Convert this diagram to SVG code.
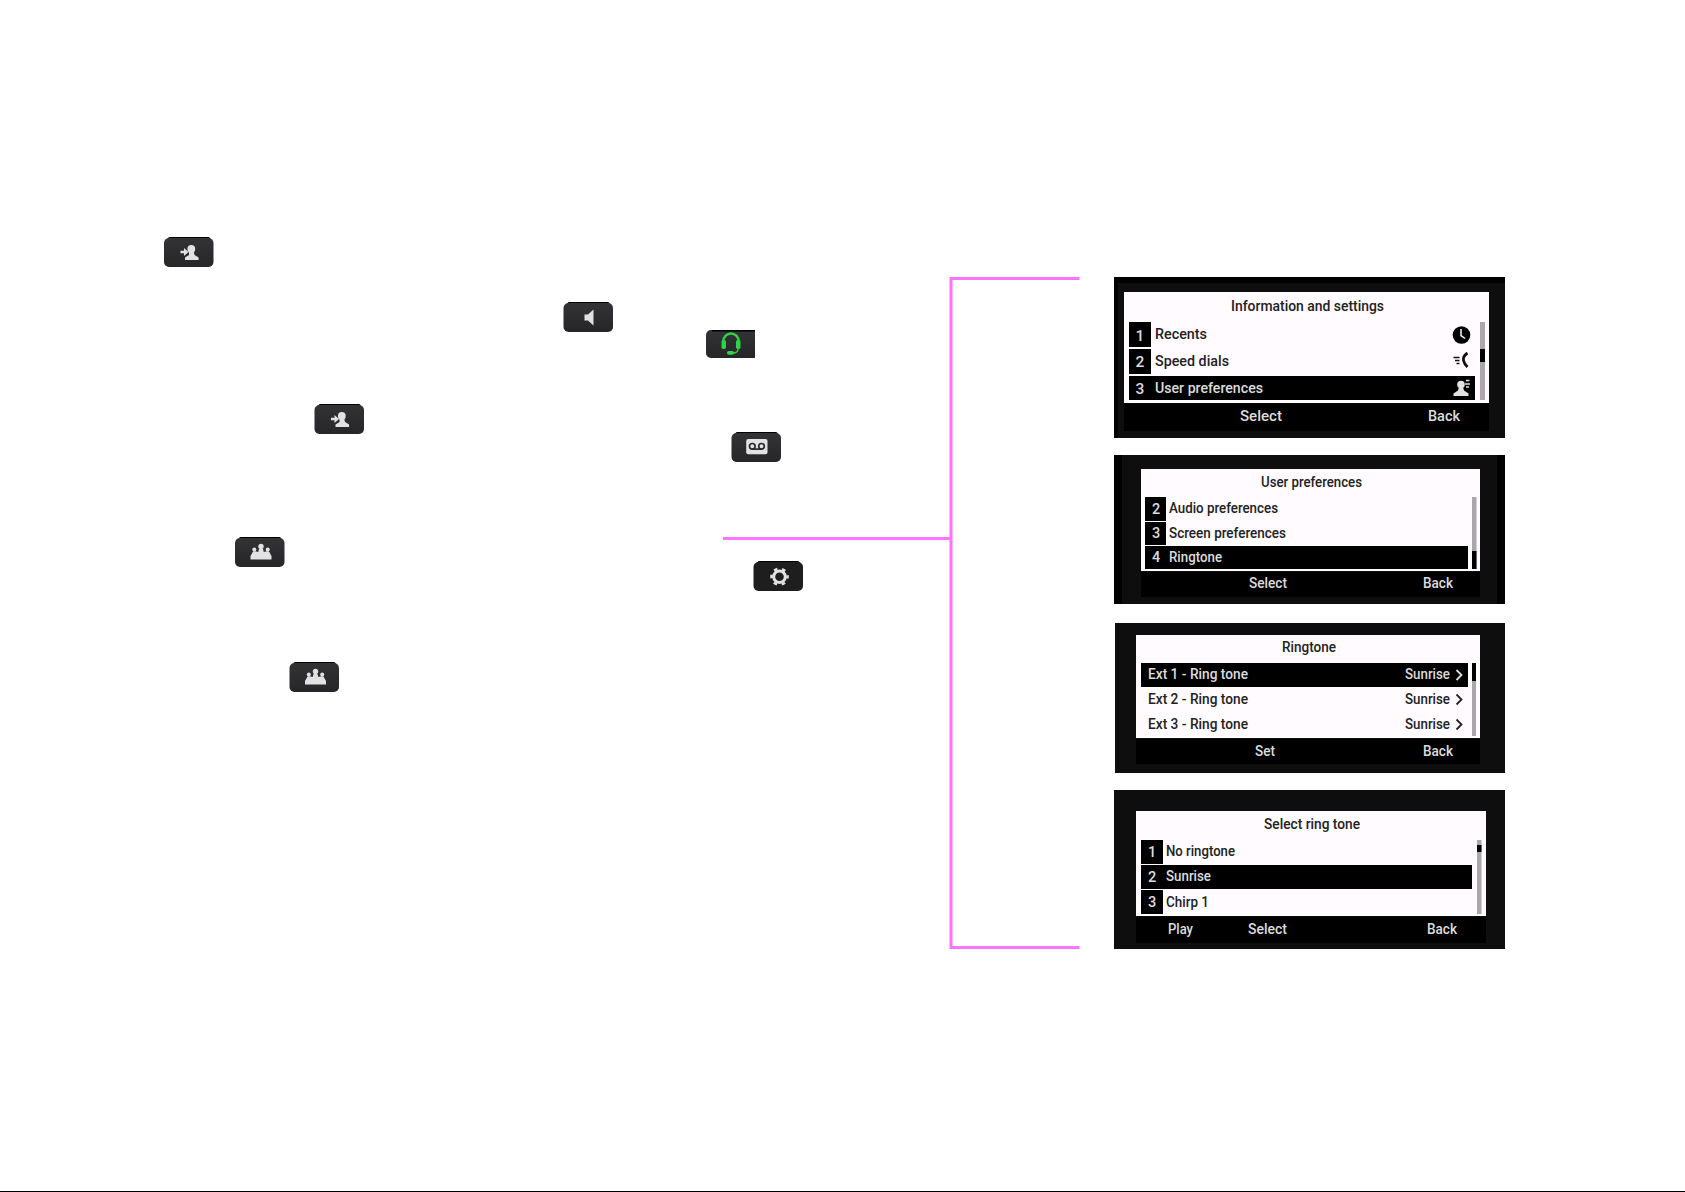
<svg xmlns="http://www.w3.org/2000/svg" width="1685" height="1192" viewBox="0 0 1685 1192">
<style>
text{font-family:Roboto,"Liberation Sans",sans-serif;font-size:14.5px;font-weight:500}
.a text{font-size:15.500px}
.d{fill:url(#keyfill)}
.w{fill:#e2e2e2}
.k{fill:#000}
.f{fill:#0e0e0e}
.s{fill:#fffbff}
.b{fill:#a9a7ab}
.t{fill:#222}
.l{fill:#dcdcdc}
.conn{fill:none;stroke:#ff73ff;stroke-width:3}
.chev{fill:none;stroke:#e0e0e0;stroke-width:1.800}
.chev2{fill:none;stroke:#222;stroke-width:1.800}
</style>
<defs>
<linearGradient id="keyfill" x1="0" y1="0" x2="0" y2="1"><stop offset="0" stop-color="#333335"/><stop offset="1" stop-color="#262628"/></linearGradient>
<g id="key"><rect x="4" y="0" width="42" height="3" rx="1.500" fill="#000"/><rect y="1" width="49.500" height="29" rx="5" class="d"/></g>
<g id="person-in"><use href="#key"/><circle cx="27.300" cy="12" r="3.900" class="w"/><path class="w" d="M25 14.500h4.600l1 3.500 4 2.500v2.500h-13.600v-2.500l4-2.500z"/><path class="w" d="M16.500 13.800h3.500v-2.800l4.500 4-4.500 4v-2.800h-3.500z"/></g>
<g id="conference"><use href="#key"/><circle cx="26" cy="9.500" r="2.700" class="w"/><circle cx="19.300" cy="12.500" r="2" class="w"/><circle cx="32.700" cy="12.500" r="2" class="w"/><path class="w" d="M24 12h4l.8 3 3-.8 2 0 2.700 4.800v3.500h-21v-3.500l2.700-4.800h2l3 .8z"/></g>
<g id="speaker"><use href="#key"/><path class="w" d="M21 12.500h3.500l5.500-5v16l-5.500-5h-3.500z"/></g>
<g id="voicemail"><use href="#key"/><rect x="14.700" y="7" width="21.300" height="15.300" rx="2" class="w"/><circle cx="20.800" cy="14.300" r="2.800" fill="none" stroke="#2a2a2c" stroke-width="1.700"/><circle cx="30" cy="14.300" r="2.800" fill="none" stroke="#2a2a2c" stroke-width="1.700"/><path d="M20.800 17.100h9.200" stroke="#2a2a2c" stroke-width="1.700"/></g>
<g id="settings"><rect x="4" y="0" width="42" height="3" rx="1.500" fill="#000"/><rect y="1" width="49.500" height="29" rx="5" fill="#1e1e1f"/><circle cx="26" cy="15.700" r="5.800" fill="none" stroke="#e2e2e2" stroke-width="3"/><circle cx="26" cy="15.700" r="8" fill="none" stroke="#e2e2e2" stroke-width="2.600" stroke-dasharray="3.600 4.780" stroke-dashoffset="1.800"/></g>
</defs>

<rect width="1685" height="1192" fill="#fff"/>
<rect y="1191" width="1685" height="1" fill="#000"/>

<g id="connectors">
<path class="conn" d="M1079.500 278.500H951V947.500H1079.500"/>
<path class="conn" d="M723 538.500H951"/>
</g>

<g id="key-contacts-1"><use href="#person-in" x="164" y="237"/></g>
<g id="key-speaker"><use href="#speaker" x="563.500" y="302"/></g>
<g id="key-headset">
<path class="d" d="M711 330h44v28h-44a5 5 0 0 1-5-5v-18a5 5 0 0 1 5-5z"/>
<path d="M712 330h43v1.500h-43z" fill="#000"/>
<path d="M723.500 345v-4a7.500 7.500 0 0 1 15 0v4" fill="none" stroke="#2fd24a" stroke-width="2.400"/>
<rect x="721.500" y="340" width="4.500" height="9" rx="1.800" fill="#2fd24a"/>
<rect x="736" y="340" width="4.500" height="9" rx="1.800" fill="#2fd24a"/>
<path d="M738 349q0 4-5 4" fill="none" stroke="#2fd24a" stroke-width="1.400"/>
<rect x="727" y="351" width="7" height="3.800" rx="1.800" fill="#2fd24a"/>
</g>
<g id="key-contacts-2"><use href="#person-in" x="314.500" y="404"/></g>
<g id="key-voicemail"><use href="#voicemail" x="731.500" y="432"/></g>
<g id="key-conference-1"><use href="#conference" x="235" y="537"/></g>
<g id="key-settings"><use href="#settings" x="753.500" y="561"/></g>
<g id="key-conference-2"><use href="#conference" x="289.500" y="662"/></g>

<g id="screen-information" class="a">
<rect x="1114" y="277" width="391" height="161" class="k"/>
<rect x="1118" y="283" width="387" height="155" class="f"/>
<rect x="1124" y="292" width="365" height="111" class="s"/>
<rect x="1124" y="403.500" width="365" height="27.500" class="k"/>
<rect x="1129" y="322" width="22" height="25" class="k"/>
<rect x="1129" y="349" width="22" height="25" class="k"/>
<rect x="1129" y="376" width="346" height="24" class="k"/>
<rect x="1480" y="322" width="5" height="78" class="b"/>
<rect x="1480" y="349" width="5" height="13" class="k"/>
<text x="1231" y="311" class="t" textLength="153" lengthAdjust="spacingAndGlyphs">Information and settings</text>
<text x="1140" y="341" class="l" text-anchor="middle">1</text>
<text x="1140" y="367" class="l" text-anchor="middle">2</text>
<text x="1140" y="394" class="l" text-anchor="middle">3</text>
<text x="1155" y="339" class="t" textLength="52" lengthAdjust="spacingAndGlyphs">Recents</text>
<text x="1155" y="366" class="t" textLength="74" lengthAdjust="spacingAndGlyphs">Speed dials</text>
<text x="1155" y="393" class="l" textLength="108" lengthAdjust="spacingAndGlyphs">User preferences</text>
<text x="1240" y="421" class="l" textLength="42" lengthAdjust="spacingAndGlyphs">Select</text>
<text x="1428" y="421" class="l" textLength="32" lengthAdjust="spacingAndGlyphs">Back</text>
<circle cx="1461.500" cy="335" r="8.800" class="k"/>
<path d="M1461 329v6.500l4 3" fill="none" stroke="#fffbff" stroke-width="1.500"/>
<path d="M1453.500 357.500h6M1455 360.500h4.500M1456.500 363.500h3" stroke="#111" stroke-width="1.400"/>
<path d="M1467.500 353q-5 3.500-4 7.500t4 6.500" fill="none" stroke="#111" stroke-width="2.800"/>
<circle cx="1461" cy="384.500" r="3.800" class="w"/>
<path d="M1459 387h4l1 3.500 4.500 3v2.500h-15v-2.500l4.500-3z" class="w"/>
<path d="M1466 380.500h3.500M1465 384h5M1466 387h3" stroke="#e0e0e0" stroke-width="1.500"/>
</g>

<g id="screen-user-preferences">
<rect x="1114" y="455" width="391" height="149" class="k"/>
<rect x="1122" y="455" width="375" height="149" class="f"/>
<rect x="1141" y="469" width="339" height="102" class="s"/>
<rect x="1141" y="572" width="339" height="25" class="k"/>
<rect x="1145" y="497" width="21" height="24" class="k"/>
<rect x="1145" y="522" width="21" height="23" class="k"/>
<rect x="1145" y="546" width="323" height="23" class="k"/>
<rect x="1472" y="497" width="4.500" height="72" class="b"/>
<rect x="1472" y="551" width="4.500" height="18" class="k"/>
<text x="1261" y="487" class="t" textLength="101" lengthAdjust="spacingAndGlyphs">User preferences</text>
<text x="1156" y="514" class="l" text-anchor="middle">2</text>
<text x="1156" y="538" class="l" text-anchor="middle">3</text>
<text x="1156" y="562" class="l" text-anchor="middle">4</text>
<text x="1169" y="513" class="t" textLength="109" lengthAdjust="spacingAndGlyphs">Audio preferences</text>
<text x="1169" y="538" class="t" textLength="117" lengthAdjust="spacingAndGlyphs">Screen preferences</text>
<text x="1169" y="562" class="l" textLength="53" lengthAdjust="spacingAndGlyphs">Ringtone</text>
<text x="1249" y="588" class="l" textLength="38" lengthAdjust="spacingAndGlyphs">Select</text>
<text x="1423" y="588" class="l" textLength="30" lengthAdjust="spacingAndGlyphs">Back</text>
</g>

<g id="screen-ringtone">
<rect x="1115" y="623" width="390" height="150" class="f"/>
<rect x="1136" y="635" width="344" height="103" class="s"/>
<rect x="1136" y="739" width="344" height="25" class="k"/>
<rect x="1141" y="663" width="327" height="24" class="k"/>
<rect x="1472" y="663" width="4" height="73" class="b"/>
<rect x="1472" y="663" width="4" height="18" class="k"/>
<text x="1282" y="652" class="t" textLength="54" lengthAdjust="spacingAndGlyphs">Ringtone</text>
<text x="1148" y="679" class="l" textLength="100" lengthAdjust="spacingAndGlyphs">Ext 1 - Ring tone</text>
<text x="1148" y="704" class="t" textLength="100" lengthAdjust="spacingAndGlyphs">Ext 2 - Ring tone</text>
<text x="1148" y="729" class="t" textLength="100" lengthAdjust="spacingAndGlyphs">Ext 3 - Ring tone</text>
<text x="1405" y="679" class="l" textLength="45" lengthAdjust="spacingAndGlyphs">Sunrise</text>
<text x="1405" y="704" class="t" textLength="45" lengthAdjust="spacingAndGlyphs">Sunrise</text>
<text x="1405" y="729" class="t" textLength="45" lengthAdjust="spacingAndGlyphs">Sunrise</text>
<path class="chev" d="M1456.500 670l5 5-5 5"/>
<path class="chev2" d="M1456.500 694.500l5 5-5 5"/>
<path class="chev2" d="M1456.500 719.500l5 5-5 5"/>
<text x="1255" y="756" class="l" textLength="20" lengthAdjust="spacingAndGlyphs">Set</text>
<text x="1423" y="756" class="l" textLength="30" lengthAdjust="spacingAndGlyphs">Back</text>
</g>

<g id="screen-select-ring-tone">
<rect x="1114" y="790" width="391" height="159" class="f"/>
<rect x="1136" y="811" width="350" height="105" class="s"/>
<rect x="1136" y="917" width="350" height="26" class="k"/>
<rect x="1141" y="840" width="22" height="24" class="k"/>
<rect x="1141" y="865" width="331" height="24" class="k"/>
<rect x="1141" y="890" width="22" height="24" class="k"/>
<rect x="1477" y="840" width="4.500" height="74" class="b"/>
<rect x="1477" y="845" width="4.500" height="7" class="k"/>
<text x="1264" y="829" class="t" textLength="96" lengthAdjust="spacingAndGlyphs">Select ring tone</text>
<text x="1152" y="857" class="l" text-anchor="middle">1</text>
<text x="1152" y="882" class="l" text-anchor="middle">2</text>
<text x="1152" y="907" class="l" text-anchor="middle">3</text>
<text x="1166" y="856" class="t" textLength="69" lengthAdjust="spacingAndGlyphs">No ringtone</text>
<text x="1166" y="881" class="l" textLength="45" lengthAdjust="spacingAndGlyphs">Sunrise</text>
<text x="1166" y="907" class="t" textLength="43" lengthAdjust="spacingAndGlyphs">Chirp 1</text>
<text x="1168" y="934" class="l" textLength="25" lengthAdjust="spacingAndGlyphs">Play</text>
<text x="1248" y="934" class="l" textLength="39" lengthAdjust="spacingAndGlyphs">Select</text>
<text x="1427" y="934" class="l" textLength="30" lengthAdjust="spacingAndGlyphs">Back</text>
</g>
</svg>
